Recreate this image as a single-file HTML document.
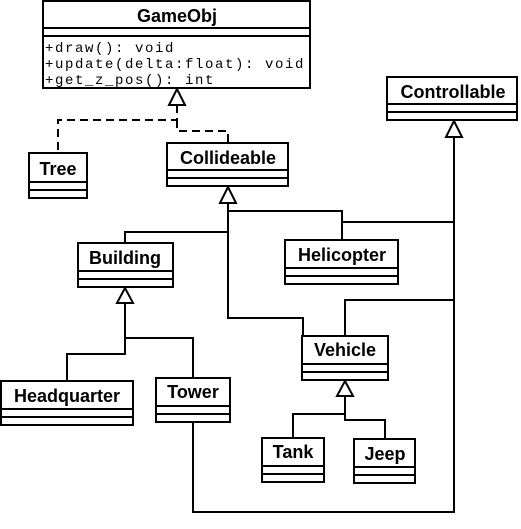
<!DOCTYPE html>
<html><head><style>body{margin:0;background:#fff}svg{display:block}</style></head><body>
<svg width="521" height="529" xmlns="http://www.w3.org/2000/svg" font-family="Liberation Sans, sans-serif">
<g fill="#fff" stroke="#000" stroke-width="2">
<rect x="43" y="1" width="267" height="87"/>
<line x1="43" y1="28" x2="310" y2="28"/><line x1="43" y1="36" x2="310" y2="36"/>
<rect x="29" y="153" width="58" height="45"/><line x1="29" y1="182" x2="87" y2="182"/><line x1="29" y1="190" x2="87" y2="190"/>
<rect x="167" y="143" width="121" height="43"/><line x1="167" y1="170" x2="288" y2="170"/><line x1="167" y1="178" x2="288" y2="178"/>
<rect x="387" y="77" width="130" height="43"/><line x1="387" y1="104" x2="517" y2="104"/><line x1="387" y1="112" x2="517" y2="112"/>
<rect x="78" y="243" width="95" height="44"/><line x1="78" y1="271" x2="173" y2="271"/><line x1="78" y1="279" x2="173" y2="279"/>
<rect x="285" y="240" width="113" height="44"/><line x1="285" y1="268" x2="398" y2="268"/><line x1="285" y1="276" x2="398" y2="276"/>
<rect x="302" y="336" width="86" height="44"/><line x1="302" y1="364" x2="388" y2="364"/><line x1="302" y1="372" x2="388" y2="372"/>
<rect x="1" y="381" width="132" height="44"/><line x1="1" y1="409" x2="133" y2="409"/><line x1="1" y1="417" x2="133" y2="417"/>
<rect x="156" y="378" width="74" height="44"/><line x1="156" y1="406" x2="230" y2="406"/><line x1="156" y1="414" x2="230" y2="414"/>
<rect x="262" y="438" width="62" height="44"/><line x1="262" y1="466" x2="324" y2="466"/><line x1="262" y1="474" x2="324" y2="474"/>
<rect x="354" y="439" width="61" height="44"/><line x1="354" y1="467" x2="415" y2="467"/><line x1="354" y1="475" x2="415" y2="475"/>
</g>
<g fill="none" stroke="#000" stroke-width="2">
<path d="M177 105V120H58V153 M177 120V131H228V143" stroke-dasharray="8,5"/>
<path d="M228 203V318H303V336 M125 242V232H228 M228 211H342V240 M342 222H454 M454 137V512H193V422 M345 336V300H454"/>
<path d="M125 303V338H193V378 M125 338V354H67V381"/>
<path d="M345 396V414H293V438 M345 414V420H385V439"/>
</g>
<g fill="#fff" stroke="#000" stroke-width="2">
<polygon points="177,89 169,105 185,105"/>
<polygon points="228,187 220,203 236,203"/>
<polygon points="454,121 446,137 462,137"/>
<polygon points="125,288 117,303 133,303"/>
<polygon points="345,381 337,396 353,396"/>
</g>
<g font-weight="bold" font-size="18" text-anchor="middle">
<text x="177" y="22">GameObj</text>
<text x="58" y="175">Tree</text>
<text x="228" y="164">Collideable</text>
<text x="453" y="98">Controllable</text>
<text x="125" y="264">Building</text>
<text x="342" y="261">Helicopter</text>
<text x="345" y="356">Vehicle</text>
<text x="67" y="402">Headquarter</text>
<text x="193" y="398">Tower</text>
<text x="293" y="458">Tank</text>
<text x="385" y="460">Jeep</text>
</g>
<g font-family="Liberation Mono, monospace" font-size="14" letter-spacing="1.6">
<text x="45" y="52">+draw(): void</text>
<text x="45" y="68">+update(delta:float): void</text>
<text x="45" y="84">+get_z_pos(): int</text>
</g>
</svg>
</body></html>
